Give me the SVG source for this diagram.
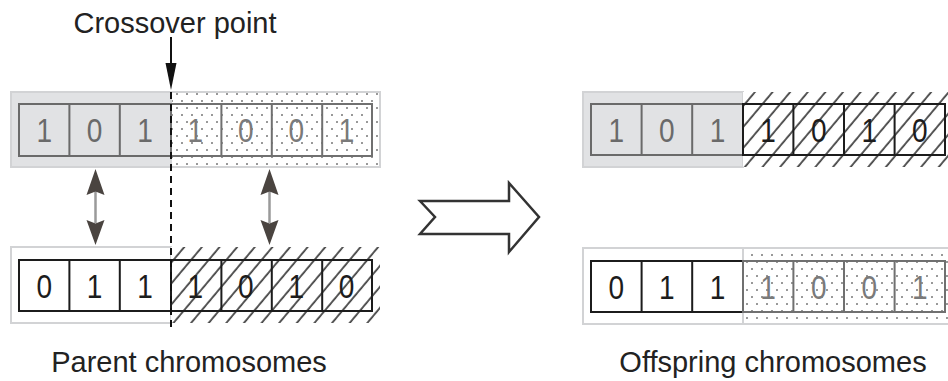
<svg xmlns="http://www.w3.org/2000/svg" width="948" height="381" viewBox="0 0 948 381">
  <defs>
    <pattern id="dots" width="10" height="14" patternUnits="userSpaceOnUse">
      <rect width="10" height="14" fill="#ffffff"/>
      <circle cx="2" cy="3" r="0.95" fill="#6e6e6e"/>
      <circle cx="7" cy="10" r="0.95" fill="#6e6e6e"/>
    </pattern>
    <pattern id="hatch" width="13.5" height="13.5" patternUnits="userSpaceOnUse" patternTransform="rotate(40)">
      <rect width="13.5" height="13.5" fill="#ffffff"/>
      <line x1="3" y1="0" x2="3" y2="13.5" stroke="#444" stroke-width="1.8"/>
    </pattern>
  </defs>
  <style>
    .band-gray { fill: #e1e2e4; stroke: #d2d3d5; stroke-width: 2; }
    .band-white { fill: #ffffff; stroke: #d2d3d5; stroke-width: 2; }
    .band-dots { fill: url(#dots); stroke: #d2d3d5; stroke-width: 2; }
    .band-hatch { fill: url(#hatch); stroke: none; }
    .cells-gray { fill: none; stroke: #6a6a6a; stroke-width: 2; }
    .cells-dark { fill: none; stroke: #1c1c1c; stroke-width: 2; }
    .cells-dots { fill: none; stroke: #707070; stroke-width: 2; }
    .digit { font-family: "Liberation Sans", Arial, sans-serif; font-size: 33px; text-anchor: middle; }
    .d-gray { fill: #6a6a6a; }
    .d-dark { fill: #1c1c1c; }
    .d-light { fill: #7a7a7a; }
    .label { font-family: "Liberation Sans", Arial, sans-serif; font-size: 29px; fill: #222; text-anchor: middle; }
    .swap-shaft { stroke: #9a9a9a; stroke-width: 2.5; fill: none; }
    .swap-head { fill: #4a4440; }
  </style>

  <!-- Parent A: 1 0 1 | 1 0 0 1 -->
  <g id="parent-a">
    <rect class="band-gray" x="11" y="92" width="160" height="75"/>
    <rect class="band-dots" x="171" y="92" width="209" height="75"/>
    <path class="cells-gray" d="M19 104 H171 V156 H19 Z M69.4 104 V156 M119.8 104 V156"/>
    <path class="cells-dots" d="M171 104 H372 V156 H171 Z M221.4 104 V156 M271.8 104 V156 M322.2 104 V156"/>
    <g class="digit d-gray">
      <text transform="translate(44.2,142) scale(0.85,1)">1</text>
      <text transform="translate(94.6,142) scale(0.85,1)">0</text>
      <text transform="translate(145,142) scale(0.85,1)">1</text>
    </g>
    <g class="digit d-light">
      <text transform="translate(195.4,142) scale(0.85,1)">1</text>
      <text transform="translate(245.8,142) scale(0.85,1)">0</text>
      <text transform="translate(296.2,142) scale(0.85,1)">0</text>
      <text transform="translate(346.6,142) scale(0.85,1)">1</text>
    </g>
  </g>

  <!-- Parent B: 0 1 1 | 1 0 1 0 -->
  <g id="parent-b">
    <rect class="band-white" x="11" y="247" width="160" height="76"/>
    <rect class="band-hatch" x="171" y="247" width="209" height="76"/>
    <path class="cells-dark" d="M19 260 H372 V311 H19 Z M69.4 260 V311 M119.8 260 V311 M171 260 V311 M221.4 260 V311 M271.8 260 V311 M322.2 260 V311"/>
    <g class="digit d-dark">
      <text transform="translate(44.2,297.5) scale(0.85,1)">0</text>
      <text transform="translate(94.6,297.5) scale(0.85,1)">1</text>
      <text transform="translate(145,297.5) scale(0.85,1)">1</text>
      <text transform="translate(195.4,297.5) scale(0.85,1)">1</text>
      <text transform="translate(245.8,297.5) scale(0.85,1)">0</text>
      <text transform="translate(296.2,297.5) scale(0.85,1)">1</text>
      <text transform="translate(346.6,297.5) scale(0.85,1)">0</text>
    </g>
  </g>

  <!-- Offspring A: 1 0 1 | 1 0 1 0 -->
  <g id="offspring-a">
    <rect class="band-gray" x="583" y="92" width="160" height="75"/>
    <rect class="band-hatch" x="743" y="92" width="210" height="75"/>
    <path class="cells-gray" d="M591 104 H743 V155 H591 Z M641.6 104 V155 M692.2 104 V155"/>
    <path class="cells-dark" d="M743 104 H945 V155 H743 Z M793.4 104 V155 M844 104 V155 M894.6 104 V155"/>
    <g class="digit d-gray">
      <text transform="translate(616.3,141.5) scale(0.85,1)">1</text>
      <text transform="translate(666.9,141.5) scale(0.85,1)">0</text>
      <text transform="translate(717.5,141.5) scale(0.85,1)">1</text>
    </g>
    <g class="digit d-dark">
      <text transform="translate(768.1,141.5) scale(0.85,1)">1</text>
      <text transform="translate(818.7,141.5) scale(0.85,1)">0</text>
      <text transform="translate(869.3,141.5) scale(0.85,1)">1</text>
      <text transform="translate(919.9,141.5) scale(0.85,1)">0</text>
    </g>
  </g>

  <!-- Offspring B: 0 1 1 | 1 0 0 1 -->
  <g id="offspring-b">
    <rect class="band-white" x="583" y="248" width="160" height="76"/>
    <rect class="band-dots" x="743" y="248" width="210" height="76"/>
    <path class="cells-dark" d="M591 261 H743 V312 H591 Z M641.6 261 V312 M692.2 261 V312"/>
    <path class="cells-dots" d="M743 261 H945 V312 H743 Z M793.4 261 V312 M844 261 V312 M894.6 261 V312"/>
    <g class="digit d-dark">
      <text transform="translate(616.3,298.5) scale(0.85,1)">0</text>
      <text transform="translate(666.9,298.5) scale(0.85,1)">1</text>
      <text transform="translate(717.5,298.5) scale(0.85,1)">1</text>
    </g>
    <g class="digit d-light">
      <text transform="translate(768.1,298.5) scale(0.85,1)">1</text>
      <text transform="translate(818.7,298.5) scale(0.85,1)">0</text>
      <text transform="translate(869.3,298.5) scale(0.85,1)">0</text>
      <text transform="translate(919.9,298.5) scale(0.85,1)">1</text>
    </g>
  </g>

  <!-- Captions -->
  <g id="crossover-label"><text class="label" x="175" y="33" font-size="28">Crossover point</text></g>
  <g id="parent-label"><text class="label" x="189" y="372">Parent chromosomes</text></g>
  <g id="offspring-label"><text class="label" x="773" y="372">Offspring chromosomes</text></g>

  <!-- Connectors -->
  <g id="connectors">
    <!-- crossover pointer and cut line -->
    <line x1="171" y1="37" x2="171" y2="66" stroke="#111" stroke-width="2"/>
    <path d="M171 90 L165.5 63 L176.5 63 Z" fill="#111"/>
    <line x1="171" y1="92" x2="171" y2="328" stroke="#111" stroke-width="2" stroke-dasharray="7 5"/>

    <!-- swap arrows -->
    <line class="swap-shaft" x1="95.5" y1="190" x2="95.5" y2="223"/>
    <path class="swap-head" d="M95.5 169 L86.5 195 L95.5 191.5 L104.5 195 Z M95.5 245 L86.5 220 L95.5 223.5 L104.5 220 Z"/>
    <line class="swap-shaft" x1="269.5" y1="190" x2="269.5" y2="223"/>
    <path class="swap-head" d="M269.5 169 L260.5 195 L269.5 191.5 L278.5 195 Z M269.5 245 L260.5 220 L269.5 223.5 L278.5 220 Z"/>

    <!-- transition arrow -->
    <path d="M420 201 L435 217 L420 234 L509 234 L509 252 L539 217 L509 183 L509 201 Z" fill="#ffffff" stroke="#333" stroke-width="2.5" stroke-linejoin="miter"/>
  </g>
</svg>
